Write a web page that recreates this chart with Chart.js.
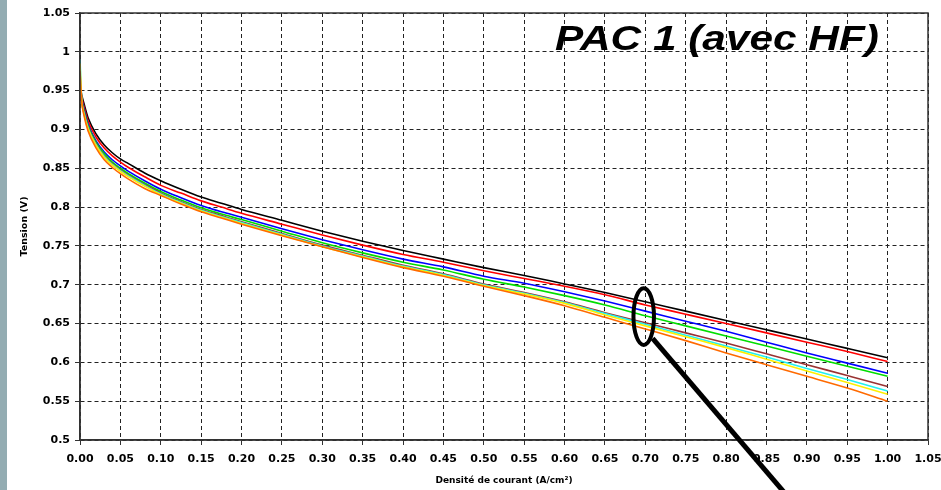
<!DOCTYPE html>
<html>
<head>
<meta charset="utf-8">
<script src="https://cdn.jsdelivr.net/npm/chart.js@4.4.1/dist/chart.umd.min.js"></script>
<style>
  html, body { margin: 0; padding: 0; background: #fff; }
  #wrap {
    position: relative; width: 941px; height: 490px;
    background: linear-gradient(to right, #93acb2 0, #93acb2 7px, #fff 7px);
  }
</style>
</head>
<body>
<div id="wrap"><canvas id="chart"></canvas></div>
<script>
// current density (A/cm²) shared by every curve
const currentDensity = [0, 0.002, 0.005, 0.01, 0.02, 0.03, 0.04, 0.05, 0.06, 0.08,
  0.1, 0.125, 0.15, 0.175, 0.2, 0.25, 0.3, 0.35, 0.4, 0.45,
  0.5, 0.55, 0.6, 0.65, 0.7, 0.75, 0.8, 0.85, 0.9, 0.95, 1.0];

// cell voltage (V), one array per curve
const voltBlack = [0.958, 0.945, 0.933, 0.915, 0.894, 0.880, 0.870, 0.862, 0.856, 0.844,
  0.834, 0.823, 0.813, 0.805, 0.797, 0.783, 0.769, 0.756, 0.744, 0.733,
  0.722, 0.712, 0.701, 0.690, 0.678, 0.666, 0.654, 0.642, 0.630, 0.618, 0.606];
const voltRed = [0.955, 0.942, 0.929, 0.911, 0.890, 0.876, 0.866, 0.858, 0.851, 0.839,
  0.828, 0.818, 0.808, 0.800, 0.792, 0.778, 0.764, 0.751, 0.739, 0.729,
  0.718, 0.708, 0.698, 0.687, 0.674, 0.662, 0.650, 0.638, 0.626, 0.614, 0.601];
const voltBlue = [0.955, 0.940, 0.926, 0.907, 0.885, 0.871, 0.861, 0.853, 0.846, 0.834,
  0.823, 0.812, 0.802, 0.794, 0.787, 0.772, 0.758, 0.745, 0.733, 0.723,
  0.711, 0.702, 0.691, 0.679, 0.666, 0.653, 0.640, 0.626, 0.612, 0.599, 0.586];
const voltGreen = [0.955, 0.938, 0.924, 0.905, 0.883, 0.869, 0.858, 0.850, 0.843, 0.831,
  0.820, 0.809, 0.799, 0.791, 0.784, 0.769, 0.754, 0.741, 0.729, 0.719,
  0.707, 0.697, 0.686, 0.674, 0.660, 0.647, 0.634, 0.621, 0.608, 0.595, 0.582];
const voltBrown = [0.955, 0.937, 0.922, 0.903, 0.881, 0.866, 0.856, 0.848, 0.841, 0.829,
  0.818, 0.807, 0.797, 0.789, 0.781, 0.766, 0.751, 0.738, 0.725, 0.714,
  0.701, 0.690, 0.678, 0.664, 0.651, 0.638, 0.625, 0.611, 0.597, 0.583, 0.569];
const voltCyan = [0.990, 0.940, 0.921, 0.902, 0.880, 0.865, 0.855, 0.847, 0.840, 0.828,
  0.817, 0.806, 0.796, 0.788, 0.780, 0.765, 0.750, 0.737, 0.724, 0.713,
  0.700, 0.689, 0.677, 0.663, 0.649, 0.635, 0.621, 0.607, 0.592, 0.578, 0.563];
const voltYellow = [0.985, 0.939, 0.920, 0.901, 0.879, 0.864, 0.854, 0.846, 0.839, 0.827,
  0.816, 0.805, 0.795, 0.787, 0.779, 0.764, 0.749, 0.736, 0.723, 0.712,
  0.699, 0.688, 0.676, 0.661, 0.647, 0.633, 0.619, 0.604, 0.589, 0.574, 0.559];
const voltOrange = [0.975, 0.937, 0.918, 0.898, 0.876, 0.861, 0.851, 0.843, 0.836, 0.824,
  0.815, 0.804, 0.794, 0.786, 0.778, 0.763, 0.749, 0.735, 0.722, 0.711,
  0.698, 0.686, 0.673, 0.658, 0.643, 0.628, 0.612, 0.597, 0.582, 0.567, 0.550];

const xTickLabels = ['0.00', '0.05', '0.10', '0.15', '0.20', '0.25', '0.30', '0.35', '0.40', '0.45', '0.50',
  '0.55', '0.60', '0.65', '0.70', '0.75', '0.80', '0.85', '0.90', '0.95', '1.00', '1.05'];
const yTickLabels = ['0.5', '0.55', '0.6', '0.65', '0.7', '0.75', '0.8', '0.85', '0.9', '0.95', '1', '1.05'];

const chartTitle = 'PAC 1 (avec HF)';

const series = [
  { label: 'Orange', values: voltOrange, color: '#ff6a00' },
  { label: 'Jaune', values: voltYellow, color: '#ffee00' },
  { label: 'Cyan', values: voltCyan, color: '#22f0f0' },
  { label: 'Marron', values: voltBrown, color: '#993333' },
  { label: 'Vert', values: voltGreen, color: '#00dd00' },
  { label: 'Bleu', values: voltBlue, color: '#0000ff' },
  { label: 'Rouge', values: voltRed, color: '#ff0000' },
  { label: 'Noir', values: voltBlack, color: '#000000' }
];

const datasets = series.map((s) => ({
  label: s.label,
  data: currentDensity.map((x, i) => ({ x, y: s.values[i] })),
  borderColor: s.color,
  borderWidth: 1.6,
  pointRadius: 0,
  cubicInterpolationMode: 'monotone',
  fill: false
}));

// frame, title text, and the ellipse + pointer line
const annotations = {
  id: 'annotations',
  afterDraw(chart) {
    const { ctx, chartArea: a, scales: { x, y } } = chart;
    ctx.save();
    ctx.strokeStyle = '#333';
    ctx.lineWidth = 1.5;
    ctx.strokeRect(a.left, a.top, a.right - a.left, a.bottom - a.top);

    // title inside the plot
    ctx.fillStyle = '#000';
    ctx.font = 'italic bold 35px "Liberation Sans", Arial, sans-serif';
    ctx.textBaseline = 'alphabetic';
    const tx = x.getPixelForValue(0.588);
    const ty = y.getPixelForValue(1.0026);
    ctx.translate(tx, ty);
    ctx.scale(1.21, 1);
    ctx.fillText(chartTitle, 0, 0);
    ctx.setTransform(1, 0, 0, 1, 0, 0);

    // ellipse around the curves at 0.70 A/cm²
    const cx = x.getPixelForValue(0.698);
    const cy = y.getPixelForValue(0.659);
    const rx = x.getPixelForValue(0.7107) - cx;
    const ry = cy - y.getPixelForValue(0.6955);
    ctx.strokeStyle = '#000';
    ctx.lineWidth = 4;
    ctx.beginPath();
    ctx.ellipse(cx, cy, rx, ry, 0, 0, Math.PI * 2);
    ctx.stroke();

    ctx.lineWidth = 5;
    ctx.beginPath();
    ctx.moveTo(x.getPixelForValue(0.709), y.getPixelForValue(0.631));
    ctx.lineTo(x.getPixelForValue(0.88), y.getPixelForValue(0.4227));
    ctx.stroke();
    ctx.restore();
  }
};

const tickFont = { family: '"DejaVu Sans", sans-serif', size: 11, weight: 'bold' };
const titleFont = { family: '"DejaVu Sans", sans-serif', size: 9, weight: 'bold' };

new Chart(document.getElementById('chart'), {
  type: 'line',
  data: { datasets },
  options: {
    responsive: true,
    maintainAspectRatio: false,
    animation: false,
    layout: { padding: { top: 13, right: 13, left: 0, bottom: 0 } },
    plugins: { legend: { display: false }, tooltip: { enabled: false } },
    scales: {
      x: {
        type: 'linear',
        min: 0,
        max: 1.05,
        ticks: {
          stepSize: 0.05,
          autoSkip: false,
          maxRotation: 0,
          color: '#000',
          font: tickFont,
          padding: 8,
          callback: (value, index) => xTickLabels[index]
        },
        grid: { color: '#222', lineWidth: 1, tickLength: 5, tickColor: '#333' },
        border: { color: '#333', width: 1.5, dash: [4, 3] },
        title: {
          display: true,
          text: 'Densité de courant (A/cm²)',
          color: '#000',
          font: titleFont,
          padding: { top: 0, bottom: 4 }
        },
        afterFit(scale) {
          scale.height = 50;
          scale.paddingLeft = 0;
          scale.paddingRight = 0;
        }
      },
      y: {
        type: 'linear',
        min: 0.5,
        max: 1.05,
        ticks: {
          stepSize: 0.05,
          autoSkip: false,
          color: '#000',
          font: tickFont,
          padding: 5,
          callback: (value, index) => yTickLabels[index]
        },
        grid: { color: '#222', lineWidth: 1, tickLength: 5, tickColor: '#333' },
        border: { color: '#333', width: 1.5, dash: [4, 3] },
        title: {
          display: true,
          text: 'Tension (V)',
          color: '#000',
          font: { family: '"DejaVu Sans", sans-serif', size: 9.5, weight: 'bold' },
          padding: { top: 19, bottom: 0 }
        },
        afterFit(scale) {
          scale.width = 80;
          scale.paddingTop = 0;
          scale.paddingBottom = 0;
        }
      }
    }
  },
  plugins: [annotations]
});
</script>
</body>
</html>
